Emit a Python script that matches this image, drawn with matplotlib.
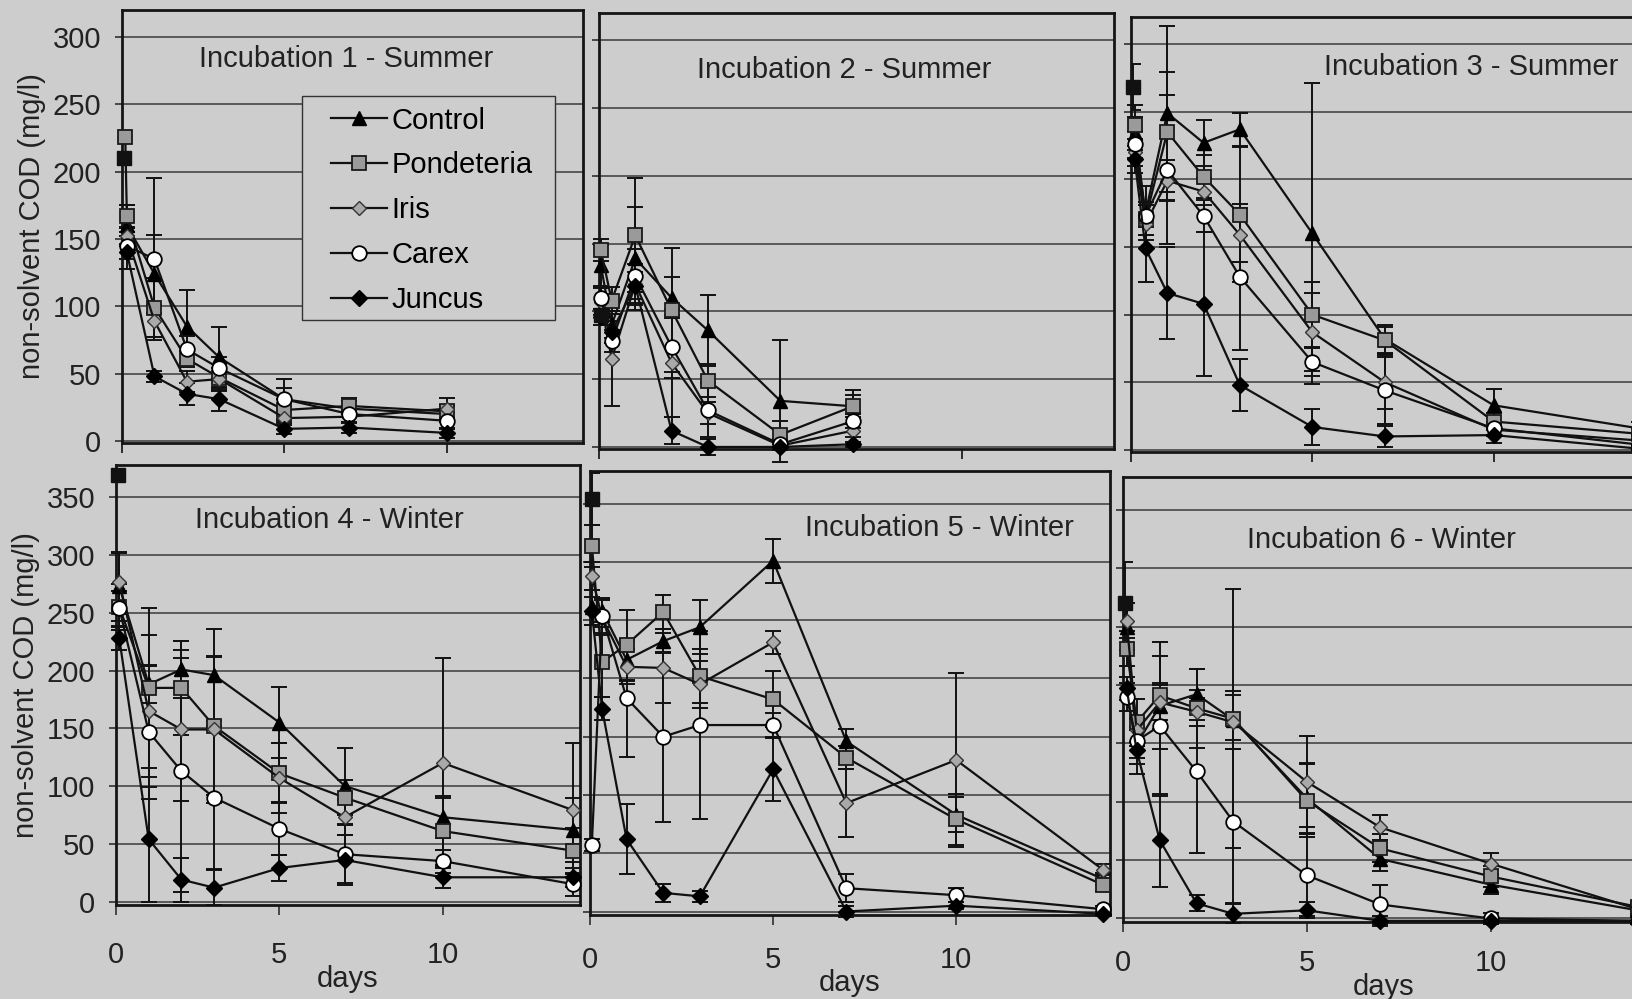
import numpy as np
import matplotlib.pyplot as plt
from matplotlib.patches import Rectangle

plt.rcParams['font.family'] = ['Liberation Sans', 'DejaVu Sans']

nan = np.nan
bg = '#cdcdcd'

series = ['Control', 'Pondeteria', 'Iris', 'Carex', 'Juncus']
titles = ['Incubation 1 - Summer', 'Incubation 2 - Summer', 'Incubation 3 - Summer',
          'Incubation 4 - Winter', 'Incubation 5 - Winter', 'Incubation 6 - Winter']

# black square = starting COD of each incubation (day 0)
start_day = 0.05
start_cod = [210, 97, 268, 369, 354, 270]
start_sd = [nan, nan, 17, nan, 22, 35]

# ---- Incubation 1 (summer)
inc1_t = [0.1, 0.15, 1, 2, 3, 5, 7, 10]
inc1 = {
    'Control':    [nan, 160, 124, 85, 62, 31, 24, 20],
    'Pondeteria': [226, 167, 99, 61, 47, 23, 26, 22],
    'Iris':       [nan, 152, 89, 44, 46, 17, 18, 24],
    'Carex':      [nan, 145, 135, 68, 54, 31, 20, 15],
    'Juncus':     [nan, 140, 48, 35, 31, 9, 10, 6],
}
inc1_sd = {
    'Control':    [nan, 15, 29, 27, 23, 8, 6, 6],
    'Pondeteria': [nan, 8, 22, 6, 10, 8, 6, 5],
    'Iris':       [nan, 6, 12, 8, 8, 5, 5, 8],
    'Carex':      [nan, 10, 60, 10, 8, 15, 6, 6],
    'Juncus':     [nan, 12, 4, 8, 9, 4, 4, 4],
}

# ---- Incubation 2 (summer)
inc2_t = [0.05, 0.35, 1, 2, 3, 5, 7]
inc2 = {
    'Control':    [134, 90, 139, 110, 86, 34, 30],
    'Pondeteria': [145, 108, 156, 101, 49, 9, 30],
    'Iris':       [107, 65, 120, 62, 25, 1, 12],
    'Carex':      [110, 78, 126, 74, 27, 2, 19],
    'Juncus':     [96, 85, 119, 12, 0, 0, 2],
}
inc2_sd = {
    'Control':    [15, 10, 38, 15, 26, 45, 8],
    'Pondeteria': [8, 10, 42, 46, 12, 10, 12],
    'Iris':       [10, 35, 15, 40, 8, 3, 5],
    'Carex':      [8, 8, 20, 23, 20, 4, 5],
    'Juncus':     [6, 8, 10, 10, 6, 2, 2],
}

# ---- Incubation 3 (summer)
inc3_t = [0.1, 0.4, 1, 2, 3, 5, 7, 10, 14]
inc3 = {
    'Control':    [234, 175, 249, 227, 237, 160, 82, 33, 16],
    'Pondeteria': [240, 171, 235, 202, 174, 100, 81, 21, 12],
    'Iris':       [220, 167, 199, 191, 159, 87, 50, 15, 7],
    'Carex':      [226, 173, 207, 173, 128, 65, 44, 16, 4],
    'Juncus':     [215, 149, 116, 108, 48, 17, 10, 11, 1],
}
inc3_sd = {
    'Control':    [12, 20, 64, 17, 12, 111, 10, 12, 5],
    'Pondeteria': [15, 12, 44, 16, 50, 24, 10, 6, 4],
    'Iris':       [10, 8, 15, 10, 20, 29, 20, 5, 3],
    'Carex':      [10, 8, 55, 12, 54, 10, 25, 5, 3],
    'Juncus':     [10, 25, 34, 53, 19, 13, 8, 6, 2],
}

# ---- Incubation 4 (winter)
inc4_t = [0.1, 1, 2, 3, 5, 7, 10, 14]
inc4 = {
    'Control':    [273, 188, 201, 196, 155, 100, 73, 62],
    'Pondeteria': [255, 185, 185, 152, 111, 90, 61, 44],
    'Iris':       [277, 165, 149, 149, 107, 73, 120, 79],
    'Carex':      [254, 147, 113, 90, 63, 41, 35, 15],
    'Juncus':     [228, 54, 19, 12, 29, 36, 21, 21],
}
inc4_sd = {
    'Control':    [30, 16, 25, 40, 31, 33, 18, 28],
    'Pondeteria': [20, 69, 41, 60, 26, 15, 29, 20],
    'Iris':       [25, 66, 62, 64, 30, 15, 91, 58],
    'Carex':      [15, 58, 105, 62, 23, 25, 10, 10],
    'Juncus':     [10, 54, 19, 15, 11, 22, 9, 8],
}

# ---- Incubation 5 (winter)
inc5_t = [0.05, 0.33, 1, 2, 3, 5, 7, 10, 14]
inc5 = {
    'Control':    [261, 258, 216, 232, 244, 301, 146, 83, 28],
    'Pondeteria': [314, 214, 229, 257, 202, 182, 132, 79, 23],
    'Iris':       [288, 252, 210, 209, 195, 231, 93, 130, 36],
    'Carex':      [57, 254, 183, 150, 160, 160, 20, 14, 2],
    'Juncus':     [258, 174, 62, 16, 13, 122, 0, 5, -2],
}
inc5_sd = {
    'Control':    [15, 10, 18, 10, 23, 19, 11, 15, 5],
    'Pondeteria': [18, 30, 30, 15, 23, 24, 10, 22, 5],
    'Iris':       [12, 15, 15, 30, 20, 10, 29, 75, 5],
    'Carex':      [5, 15, 50, 73, 81, 10, 12, 6, 3],
    'Juncus':     [12, 10, 30, 8, 5, 27, 5, 3, 2],
}

# ---- Incubation 6 (winter)
inc6_t = [0.1, 0.37, 1, 2, 3, 5, 7, 10, 14]
inc6 = {
    'Control':    [250, 149, 182, 192, 170, 103, 51, 29, 7],
    'Pondeteria': [231, 168, 191, 180, 171, 101, 60, 36, 10],
    'Iris':       [255, 161, 185, 177, 168, 117, 78, 47, 8],
    'Carex':      [190, 152, 165, 126, 83, 37, 12, 0, -2],
    'Juncus':     [197, 144, 67, 13, 4, 7, -2, -2, -2],
}
inc6_sd = {
    'Control':    [20, 12, 20, 22, 25, 30, 10, 8, 4],
    'Pondeteria': [15, 20, 46, 34, 111, 31, 12, 9, 4],
    'Iris':       [15, 10, 15, 12, 23, 39, 11, 9, 4],
    'Carex':      [12, 20, 60, 70, 70, 35, 17, 5, 3],
    'Juncus':     [10, 20, 40, 7, 8, 7, 4, 3, 3],
}

panels = [(inc1_t, inc1, inc1_sd), (inc2_t, inc2, inc2_sd), (inc3_t, inc3, inc3_sd),
          (inc4_t, inc4, inc4_sd), (inc5_t, inc5, inc5_sd), (inc6_t, inc6, inc6_sd)]

styles = {
    'Control':    dict(marker='^', ms=10.5, mfc='black', mec='black'),
    'Pondeteria': dict(marker='s', ms=10.5, mfc='#9a9a9a', mec='#1a1a1a', mew=1.3),
    'Iris':       dict(marker='D', ms=7.5, mfc='#a9a9a9', mec='#333333', mew=1.0),
    'Carex':      dict(marker='o', ms=10.5, mfc='white', mec='black', mew=1.3),
    'Juncus':     dict(marker='D', ms=8.5, mfc='black', mec='black'),
}

# panel boxes in pixels: left, right, top, bottom
W, H = 1633, 999
boxes = [(122, 583, 10, 443), (599, 1114, 13, 449), (1131, 1646, 17, 452),
         (116, 580, 465, 905), (590, 1110, 471, 915), (1123, 1645, 477, 922)]
title_pos = [(0.486, 0.886), (0.476, 0.869), (0.661, 0.885),
             (0.46, 0.876), (0.672, 0.871), (0.495, 0.858)]
xlabel_pad = [None, None, None, 19, 15, 12.5]

fig = plt.figure(figsize=(W / 100, H / 100), dpi=100, facecolor=bg)

for i, (t, vals, sds) in enumerate(panels):
    l, r, tp, b = boxes[i]
    ax = fig.add_axes([l / W, 1 - b / H, (r - l) / W, (b - tp) / H])
    ax.set_facecolor(bg)
    top_row = i < 3
    ax.set_xlim(0, 14.2)
    if top_row:
        ax.set_ylim(-1.5, 320)
        ax.set_yticks(np.arange(0, 301, 50))
    else:
        ax.set_ylim(-3, 378)
        ax.set_yticks(np.arange(0, 351, 50))
    ax.set_xticks([0, 5, 10])
    ax.grid(axis='y', color='#3a3a3a', lw=1.1)
    ax.set_axisbelow(True)
    for s in ax.spines.values():
        s.set_linewidth(2.0)
        s.set_color('#151515')
    ax.tick_params(axis='y', direction='out', length=5, width=1.1, pad=10,
                   labelsize=21, colors='#222222')
    if top_row:
        ax.tick_params(axis='x', direction='out', length=7, width=1.1, labelbottom=False)
    else:
        ax.tick_params(axis='x', direction='out', length=7, width=1.1, pad=xlabel_pad[i],
                       labelsize=21, colors='#222222')
        ax.set_xlabel('days', fontsize=21, color='#222222', labelpad=-3)
    if i in (0, 3):
        ax.set_ylabel('non-solvent COD (mg/l)', fontsize=21, color='#222222', labelpad=5)
    else:
        ax.tick_params(axis='y', labelleft=False)

    for name in series:
        ax.errorbar(t, vals[name], yerr=sds[name], fmt='none', ecolor='#111111',
                    elinewidth=1.4, capsize=6, capthick=1.4, zorder=3, clip_on=False)
    ax.errorbar([start_day], [start_cod[i]], yerr=[start_sd[i]], fmt='none',
                ecolor='#111111', elinewidth=1.4, capsize=6, capthick=1.4, zorder=3)
    for name in series:
        x = np.array(t, dtype=float)
        y = np.array(vals[name], dtype=float)
        ok = ~np.isnan(y)
        ax.plot(x[ok], y[ok], color='#111111', lw=1.6, label=name, zorder=4,
                clip_on=False, **styles[name])
    ax.plot([start_day], [start_cod[i]], marker='s', ms=10.5, color='#111111',
            ls='none', zorder=5, clip_on=False)

    tx, ty = title_pos[i]
    ax.text(tx, ty, titles[i], transform=ax.transAxes, ha='center', va='center',
            fontsize=21, color='#222222', zorder=6,
            bbox=dict(facecolor=bg, edgecolor='none', pad=2))

    if i == 0:
        frame = Rectangle((0.390, 0.284), 0.549, 0.517, transform=ax.transAxes,
                          facecolor=bg, edgecolor='#333333', lw=1.0, zorder=7)
        ax.add_patch(frame)
        leg = ax.legend(loc='upper left', bbox_to_anchor=(0.453, 0.777), fontsize=21,
                        frameon=False, handlelength=1.92, handletextpad=0.15,
                        labelspacing=0.58, borderpad=0, borderaxespad=0)
        leg.set_zorder(8)

fig.savefig('out.png', dpi=100, facecolor=bg)
